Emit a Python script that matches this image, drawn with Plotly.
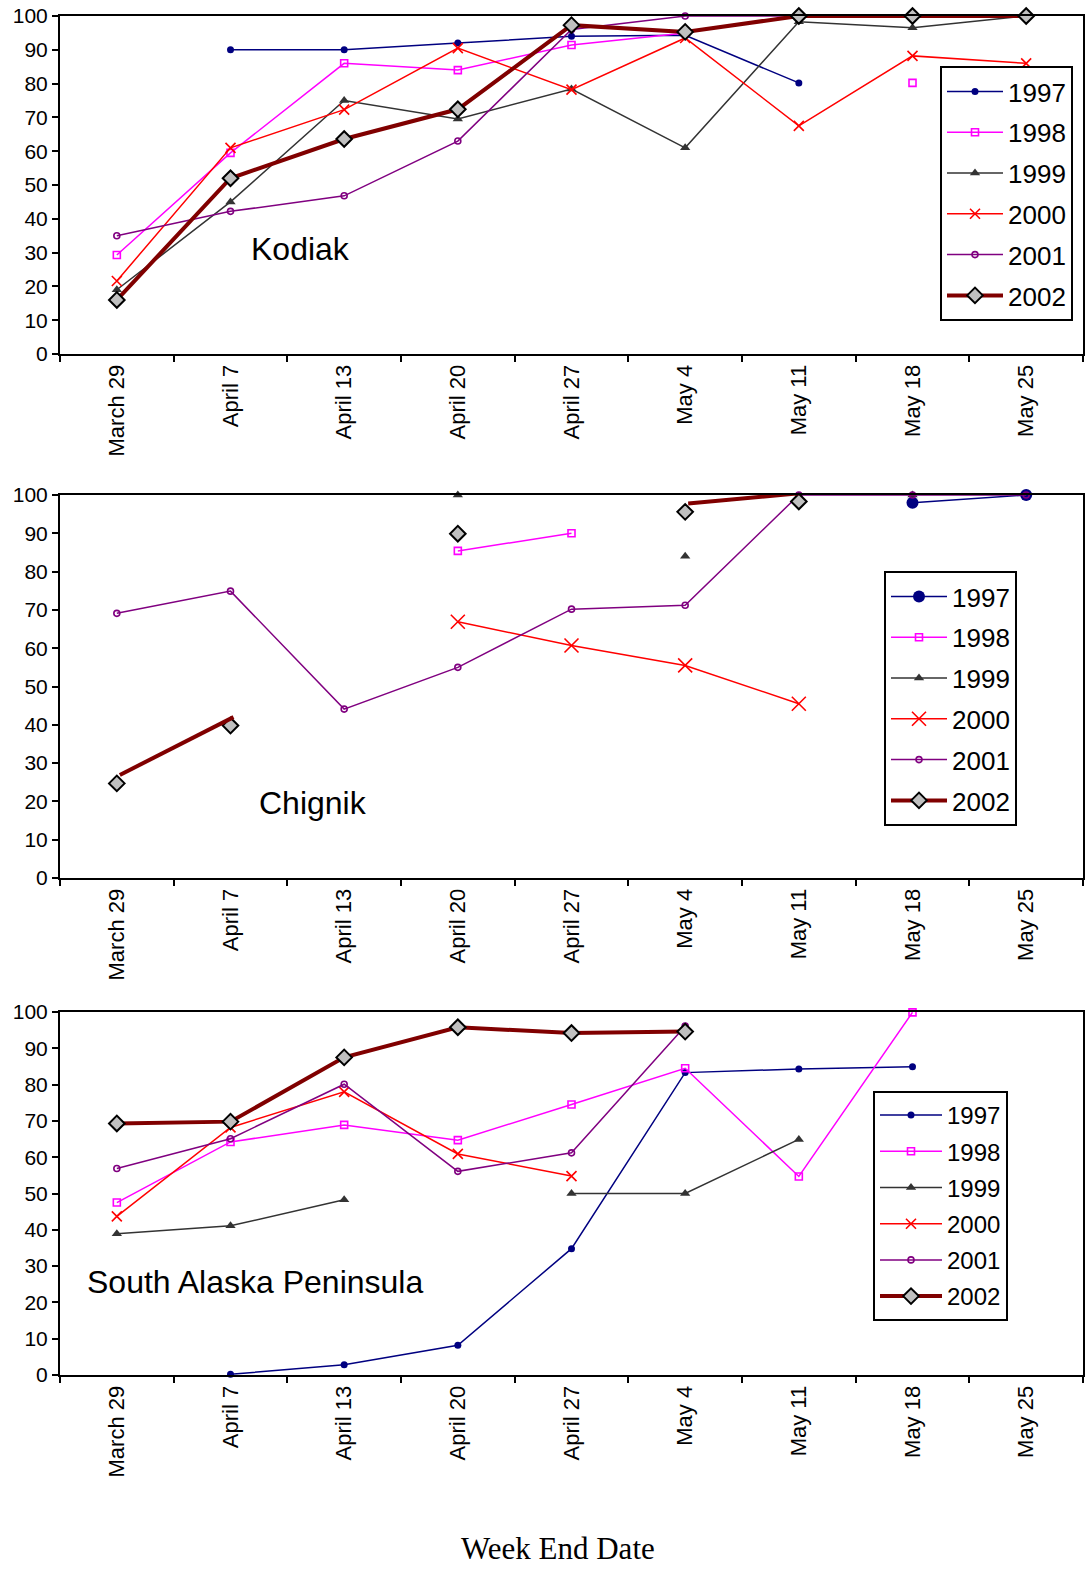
import plotly.graph_objects as go

# Week-ending dates on the x axis
weeks = ["March 29", "April 7", "April 13", "April 20", "April 27",
         "May 4", "May 11", "May 18", "May 25"]
years = ["1997", "1998", "1999", "2000", "2001", "2002"]

# Kodiak (percent)
kodiak_1997 = [None, 90, 90, 92, 94, 94.3, 80.2, None, None]
kodiak_1998 = [29.3, 59.5, 86, 84, 91.4, 95, None, 80.2, None]
kodiak_1999 = [19, 45, 75, 69.5, 78.4, 61, 98.3, 96.5, 100]
kodiak_2000 = [21.6, 61, 72.3, 90.5, 78.2, 93.5, 67.5, 88.2, 86]
kodiak_2001 = [35, 42.2, 46.8, 63, 96, 100, 100, 100, 100]
kodiak_2002 = [16, 52, 63.6, 72.4, 97.3, 95.3, 100, 100, 100]

# Chignik (percent)
chignik_1997 = [None, None, None, None, None, None, None, 98, 100]
chignik_1998 = [None, None, None, 85.4, 90, None, None, None, None]
chignik_1999 = [None, None, None, 100, None, 84, None, 100, None]
chignik_2000 = [None, None, None, 66.9, 60.7, 55.5, 45.5, None, None]
chignik_2001 = [69.1, 74.9, 44.1, 55, 70.2, 71.2, 100, 100, 100]
chignik_2002 = [24.7, 39.8, None, 89.9, None, 95.6, 98.3, None, None]

# South Alaska Peninsula (percent)
sap_1997 = [None, 0.2, 2.8, 8.2, 34.8, 83.3, 84.3, 84.9, None]
sap_1998 = [47.5, 64.2, 68.9, 64.7, 74.5, 84.5, 54.7, 99.9, None]
sap_1999 = [38.9, 41.1, 48.3, None, 50, 50, 64.9, None, None]
sap_2000 = [43.7, 68.2, 78, 60.9, 54.8, None, None, None, None]
sap_2001 = [56.9, 65.1, 80.1, 56.1, 61.2, 96.1, None, None, None]
sap_2002 = [69.3, 69.8, 87.5, 95.8, 94.2, 94.6, None, None, None]

panels = [
    ("Kodiak", [kodiak_1997, kodiak_1998, kodiak_1999, kodiak_2000, kodiak_2001, kodiak_2002]),
    ("Chignik", [chignik_1997, chignik_1998, chignik_1999, chignik_2000, chignik_2001, chignik_2002]),
    ("South Alaska Peninsula", [sap_1997, sap_1998, sap_1999, sap_2000, sap_2001, sap_2002]),
]

W, H = 1089, 1569
FONT = "Liberation Sans, Arial, sans-serif"

def px_x(v):
    return v / W

def px_y(v):
    return 1 - v / H

# plot-area boxes in pixels: (top, bottom)
boxes = [(16, 354), (495, 878), (1012, 1375)]
x_left, x_right = 60, 1083

styles = {
    "1997": dict(color="#000080", symbol="circle", size=7, lw=0),
    "1998": dict(color="#FF00FF", symbol="square-open", size=7, lw=1.6),
    "1999": dict(color="#333333", symbol="triangle-up", size=9, lw=0),
    "2000": dict(color="#FF0000", symbol="x-thin-open", size=10, lw=1.6),
    "2001": dict(color="#800080", symbol="circle-open", size=6, lw=1.6),
}

# legend placement: (left px, top px, gap between entries, font size, item width)
legend_pos = [(940, 66, 4, 26, 56), (884, 571, 4, 26, 56), (873, 1091, 2, 24, 62)]

fig = go.Figure()

for p, (name, series) in enumerate(panels):
    xa = "x" if p == 0 else f"x{p + 1}"
    ya = "y" if p == 0 else f"y{p + 1}"
    lg = "legend" if p == 0 else f"legend{p + 1}"
    for yr, vals in zip(years, series):
        if yr != "2002":
            s = styles[yr]
            size = s["size"]
            if p == 1 and yr == "1997":
                size = 12
            if p == 1 and yr == "2000":
                size = 14
            fig.add_trace(go.Scatter(
                x=weeks, y=vals, name=yr, mode="lines+markers",
                line=dict(color=s["color"], width=1.5),
                marker=dict(symbol=s["symbol"], size=size, color=s["color"],
                            line=dict(color=s["color"], width=s["lw"])),
                xaxis=xa, yaxis=ya, legend=lg, legendgroup=f"{lg}-{yr}",
                connectgaps=False, cliponaxis=False,
            ))
        else:
            mk = dict(symbol="diamond", size=12, color="#C0C0C0",
                      line=dict(color="#000000", width=2))
            if p != 1:
                fig.add_trace(go.Scatter(
                    x=weeks, y=vals, name=yr, mode="lines+markers",
                    line=dict(color="#800000", width=4), marker=mk,
                    xaxis=xa, yaxis=ya, legend=lg, legendgroup=f"{lg}-{yr}",
                    connectgaps=False, cliponaxis=False,
                ))
            else:
                # Chignik 2002: the connecting line renders slightly displaced
                # from its markers, drawn on a shifted overlay axis pair.
                fig.add_trace(go.Scatter(
                    x=weeks, y=vals, mode="lines", showlegend=False,
                    line=dict(color="#800000", width=4),
                    xaxis="x4", yaxis="y4", connectgaps=False, cliponaxis=False,
                ))
                fig.add_trace(go.Scatter(
                    x=weeks, y=vals, mode="markers", showlegend=False,
                    marker=mk, xaxis=xa, yaxis=ya, cliponaxis=False,
                ))
                fig.add_trace(go.Scatter(
                    x=[None], y=[None], name=yr, mode="lines+markers",
                    line=dict(color="#800000", width=4), marker=mk,
                    xaxis=xa, yaxis=ya, legend=lg, legendgroup=f"{lg}-{yr}",
                ))

layout = dict(
    width=W, height=H, margin=dict(l=0, r=0, t=0, b=0, autoexpand=False),
    paper_bgcolor="white", plot_bgcolor="white",
    font=dict(family=FONT, color="black"),
    showlegend=True,
)

for p, (top, bottom) in enumerate(boxes):
    sfx = "" if p == 0 else str(p + 1)
    layout[f"xaxis{sfx}"] = dict(
        domain=[px_x(x_left), px_x(x_right)],
        anchor=f"y{sfx}", type="category", categoryarray=weeks,
        categoryorder="array", range=[-0.5, 8.5], automargin=False,
        tickson="boundaries", ticks="outside", ticklen=6, tickwidth=1.5,
        tickcolor="black", tickangle=-90, tickfont=dict(size=22, family=FONT),
        showline=True, linecolor="black", linewidth=2, mirror=True,
        showgrid=False, zeroline=False,
    )
    layout[f"yaxis{sfx}"] = dict(
        domain=[px_y(bottom), px_y(top)], anchor=f"x{sfx}", automargin=False,
        range=[0, 100], dtick=10, ticks="outside", ticklen=6, tickwidth=1.5,
        tickcolor="black", tickfont=dict(size=21, family=FONT),
        showline=True, linecolor="black", linewidth=2, mirror=True,
        showgrid=False, zeroline=False,
    )
    lx, ly, gap, fsize, iw = legend_pos[p]
    layout["legend" if p == 0 else f"legend{p + 1}"] = dict(
        x=px_x(lx), y=px_y(ly), xanchor="left", yanchor="top",
        bordercolor="black", borderwidth=2, bgcolor="white",
        font=dict(size=fsize, family=FONT), itemwidth=iw,
        tracegroupgap=gap, traceorder="grouped",
    )

# Overlay axes for the displaced Chignik 2002 line
shift_x = 3 / ((x_right - x_left) / 9)
layout["xaxis4"] = dict(
    overlaying="x2", type="category", categoryarray=weeks,
    categoryorder="array", range=[-0.5 - shift_x, 8.5 - shift_x],
    visible=False, anchor="y4", automargin=False,
)
layout["yaxis4"] = dict(
    overlaying="y2", range=[-2.2, 97.8], visible=False, anchor="x4",
    automargin=False,
)

fig.update_layout(**layout)

labels = [("Kodiak", 300, 249), ("Chignik", 313, 803), ("South Alaska Peninsula", 255, 1282)]
for text, cx, cy in labels:
    fig.add_annotation(
        text=text, x=px_x(cx), y=px_y(cy), xref="paper", yref="paper",
        showarrow=False, xanchor="center", yanchor="middle",
        font=dict(size=32, family=FONT, color="black"),
    )

fig.add_annotation(
    text="Week End Date", x=px_x(558), y=px_y(1548), xref="paper", yref="paper",
    showarrow=False, xanchor="center", yanchor="middle",
    font=dict(size=31, family="Liberation Serif, Times New Roman, serif", color="black"),
)

fig.write_html("out.html")
